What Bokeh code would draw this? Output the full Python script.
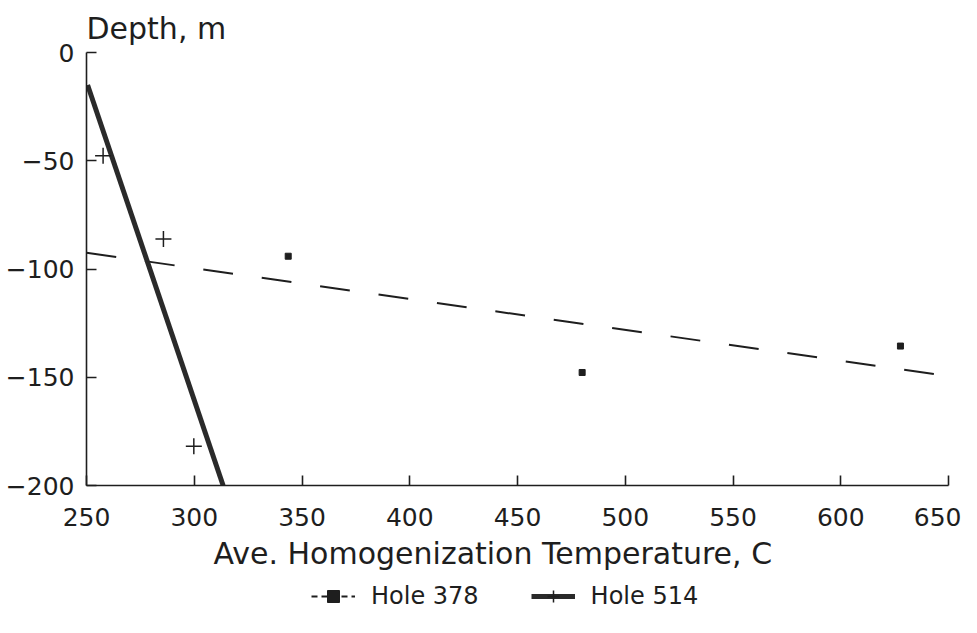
from bokeh.plotting import figure
from bokeh.models import Range1d, FixedTicker, Legend, LegendItem, Title
from bokeh.layouts import column
from bokeh.embed import file_html
from bokeh.resources import INLINE

# Hole 378 observations (temperature C, depth m)
h378_temp = [343.6, 480.0, 627.7]
h378_depth = [-94.1, -147.8, -135.6]
# Hole 378 fitted line endpoints
h378_fit_temp = [250, 650]
h378_fit_depth = [-92.5, -149.5]

# Hole 514 observations
h514_temp = [257.7, 285.7, 299.8]
h514_depth = [-47.7, -86.1, -181.9]
# Hole 514 fitted line endpoints
h514_fit_temp = [250.5, 313.4]
h514_fit_depth = [-15.0, -200.0]

x_ticks = [250, 300, 350, 400, 450, 500, 550, 600, 650]
y_ticks = [-200, -150, -100, -50, 0]

# legend-key placeholders (kept outside the legend strip's visible range)
key_x = [-5, -4]
key_y = [-5, -4]

FONT = "DejaVu Sans"
INK = "#1e1e1e"

p = figure(width=961, height=580, output_backend="svg", toolbar_location=None,
           x_range=Range1d(250, 650), y_range=Range1d(-200, 0),
           min_border_left=86, min_border_right=13, min_border_top=52,
           min_border_bottom=95)
p.outline_line_color = None
p.grid.visible = False
p.background_fill_color = "white"
p.border_fill_color = "white"

for ax in (p.xaxis[0], p.yaxis[0]):
    ax.axis_line_color = INK
    ax.axis_line_width = 1.6
    ax.major_tick_line_color = INK
    ax.major_tick_line_width = 1.6
    ax.major_tick_in = 10
    ax.major_tick_out = 0
    ax.minor_tick_line_color = None
    ax.major_label_text_font = FONT
    ax.major_label_text_font_size = "25px"
    ax.major_label_text_color = INK

p.xaxis.ticker = FixedTicker(ticks=x_ticks)
p.yaxis.ticker = FixedTicker(ticks=y_ticks)
p.xaxis.major_label_standoff = 22
p.yaxis.major_label_standoff = 12

# fitted lines
p.line(h378_fit_temp, h378_fit_depth, line_color=INK, line_width=2,
       line_dash="30 29")
p.line(h514_fit_temp, h514_fit_depth, line_color="#2a2a2a", line_width=5)

# observations
p.scatter(h378_temp, h378_depth, marker="square", size=6,
          fill_color=INK, line_color=INK)
p.scatter(h514_temp, h514_depth, marker="cross", size=16,
          line_color=INK, line_width=1.5)

# axis titles
p.add_layout(Title(text="Depth, m", text_font=FONT, text_font_size="30px",
                   text_color=INK, text_font_style="normal", align="left",
                   standoff=14), "above")
p.add_layout(Title(text="Ave. Homogenization Temperature, C", text_font=FONT,
                   text_font_size="30px", text_color=INK,
                   text_font_style="normal", align="left", offset=127,
                   standoff=10), "below")

# legend strip
q = figure(width=961, height=53, output_backend="svg", toolbar_location=None,
           x_range=Range1d(0, 1), y_range=Range1d(0, 1),
           x_axis_type=None, y_axis_type=None, min_border=0)
q.outline_line_color = None
q.grid.visible = False
k378_line = q.line(key_x, key_y, line_color=INK, line_width=2, line_dash="6 4")
k378_mark = q.scatter(key_x, key_y, marker="square", size=5, fill_color=INK,
                      line_color=INK)
k514_line = q.line(key_x, key_y, line_color="#2a2a2a", line_width=5)
k514_mark = q.scatter(key_x, key_y, marker="cross", size=16, line_color=INK,
                      line_width=1.5)

legend = Legend(items=[LegendItem(label="Hole 378", renderers=[k378_line, k378_mark]),
                       LegendItem(label="Hole 514", renderers=[k514_line, k514_mark])],
                orientation="horizontal", location=(225, 22),
                border_line_color=None, background_fill_alpha=0,
                label_text_font=FONT, label_text_font_size="24px",
                label_text_color=INK, glyph_width=44, glyph_height=30,
                label_height=30, label_standoff=16, spacing=52,
                padding=0, margin=0)
q.add_layout(legend, "center")

layout = column(p, q, spacing=0)
open("out.html", "w").write(file_html(layout, INLINE))
